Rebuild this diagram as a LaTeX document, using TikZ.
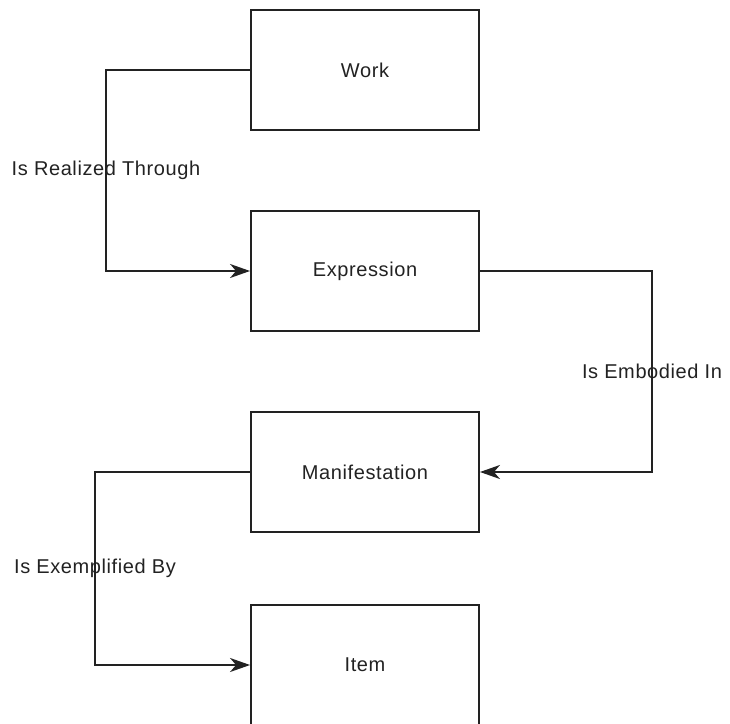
\documentclass[tikz,border=0pt]{standalone}
\usepackage{fontspec}
\setmainfont[LetterSpace=3]{Liberation Sans}
\usetikzlibrary{arrows.meta}
\definecolor{ink}{HTML}{222222}
\begin{document}
\begin{tikzpicture}[x=1bp,y=-1bp,
  entity/.style={draw=ink,line width=1.9bp,minimum width=228bp,minimum height=120bp,inner sep=0pt,text=ink,font=\fontsize{20bp}{23bp}\selectfont},
  rel/.style={draw=ink,line width=1.9bp,-{Stealth[length=20bp,width=14bp,inset=6bp]}},
  lab/.style={text=ink,inner sep=0pt,font=\fontsize{20bp}{23bp}\selectfont}]
\useasboundingbox (0,0) rectangle (730,724);
\begin{scope}
\clip (0,0) rectangle (730,724);
\node[entity] (w) at (365,70) {Work};
\node[entity] (e) at (365,271) {Expression};
\node[entity] (m) at (365,472) {Manifestation};
\node[entity] (i) at (365,665) {Item};
\coordinate (c1) at (106,70);
\coordinate (c2) at (652,271);
\coordinate (c3) at (95,472);
\draw[rel] (w.west) -- (c1) -- node[lab]{Is Realized Through} (c1 |- e.west) -- (e.west);
\draw[rel] (e.east) -- (c2) -- node[lab]{Is Embodied In} (c2 |- m.east) -- (m.east);
\draw[rel] (m.west) -- (c3) -- node[lab]{Is Exemplified By} (c3 |- i.west) -- (i.west);
\end{scope}
\end{tikzpicture}
\end{document}
